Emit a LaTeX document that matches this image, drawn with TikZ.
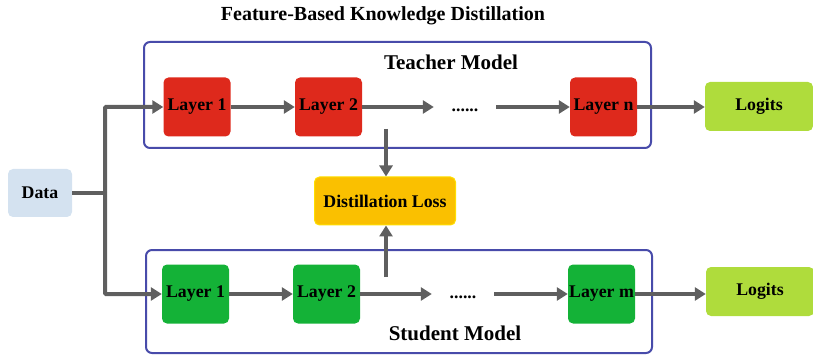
\documentclass[tikz,border=0pt]{standalone}
\usepackage{xcolor}
\usepackage{fontspec}
\setmainfont{Liberation Serif}
\usepackage{tikz}
\usetikzlibrary{arrows.meta,positioning,calc}

\definecolor{tred}{RGB}{222,41,28}
\definecolor{sgreen}{RGB}{20,178,55}
\definecolor{logitgreen}{RGB}{175,220,60}
\definecolor{datablue}{RGB}{212,226,240}
\definecolor{lossorange}{RGB}{250,192,0}
\definecolor{lossedge}{RGB}{255,222,0}
\definecolor{frameblue}{RGB}{72,75,170}
\definecolor{arrowgray}{RGB}{95,95,95}

\tikzset{
	layerbox/.style={rounded corners=5pt,minimum width=67pt,minimum height=59pt,inner sep=0pt,font=\fontsize{17.8}{20}\selectfont\bfseries},
	logitbox/.style={rounded corners=5pt,fill=logitgreen,minimum width=108pt,minimum height=49pt,inner sep=0pt,font=\fontsize{17.8}{20}\selectfont\bfseries},
	dotsnode/.style={font=\fontsize{17.8}{20}\selectfont\bfseries,inner sep=0pt,minimum width=62pt},
	modelframe/.style={draw=frameblue,line width=2pt,rounded corners=6pt},
	arr/.style={draw=arrowgray,line width=4pt,-{Triangle[length=11pt,width=13pt]}},
	plainline/.style={draw=arrowgray,line width=4pt},
}

\begin{document}
\begin{tikzpicture}[x=1pt,y=-1pt]
	\useasboundingbox (0,0) rectangle (813,355);
	\node[font=\fontsize{20}{22}\selectfont\bfseries] (title) at (383,16) {Feature-Based Knowledge Distillation};
	% teacher
	\draw[modelframe] (144,42) rectangle (651,148);
	\node[font=\fontsize{21}{23}\selectfont\bfseries] (teacher) at (451,62) {Teacher Model};
	\node[layerbox,fill=tred] (t1) at (197,107) {Layer 1};
	\node[layerbox,fill=tred] (t2) at (328.5,107) {Layer 2};
	\node[dotsnode] (tdots) at (465,110) {......};
	\node[layerbox,fill=tred] (tn) at (603.5,107) {Layer n};
	\node[logitbox] (tlogits) at (759,106.5) {Logits};
	% student
	\draw[modelframe] (146,250) rectangle (652,353);
	\node[font=\fontsize{21}{23}\selectfont\bfseries] (student) at (455,333) {Student Model};
	\node[layerbox,fill=sgreen] (s1) at (195.5,294) {Layer 1};
	\node[layerbox,fill=sgreen] (s2) at (326.5,294) {Layer 2};
	\node[dotsnode] (sdots) at (463,297) {......};
	\node[layerbox,fill=sgreen] (sm) at (601.5,294) {Layer m};
	\node[logitbox] (slogits) at (760,291.5) {Logits};
	% data and loss
	\node[rounded corners=5pt,fill=datablue,minimum width=64pt,minimum height=48pt,inner sep=0pt,font=\fontsize{17.8}{20}\selectfont\bfseries] (data) at (40,193) {Data};
	\node[rounded corners=5pt,fill=lossorange,draw=lossedge,line width=1pt,minimum width=141pt,minimum height=48pt,inner sep=0pt,font=\fontsize{17.8}{20}\selectfont\bfseries] (loss) at (385,201) {Distillation Loss};
	% connectors
	\coordinate (split) at (105,193);
	\draw[plainline] (data.east) -- (split);
	\draw[arr,rounded corners=1pt] (split) |- (t1.west);
	\draw[arr,rounded corners=1pt] (split) |- (s1.west);
	\draw[arr] (t1) -- (t2);
	\draw[arr] (t2.east) -- (t2.east -| tdots.west);
	\draw[arr] (tn.west -| tdots.east) -- (tn.west);
	\draw[arr] (tn.east) -- (tn.east -| tlogits.west);
	\draw[arr] (s1) -- (s2);
	\draw[arr] (s2.east) -- (s2.east -| sdots.west);
	\draw[arr] (sm.west -| sdots.east) -- (sm.west);
	\draw[arr] (sm.east) -- (sm.east -| slogits.west);
	\coordinate (ttap) at (386,129);
	\coordinate (stap) at (386,277);
	\draw[arr] (ttap) -- (ttap |- loss.north);
	\draw[arr] (stap) -- (stap |- loss.south);
\end{tikzpicture}
\end{document}
